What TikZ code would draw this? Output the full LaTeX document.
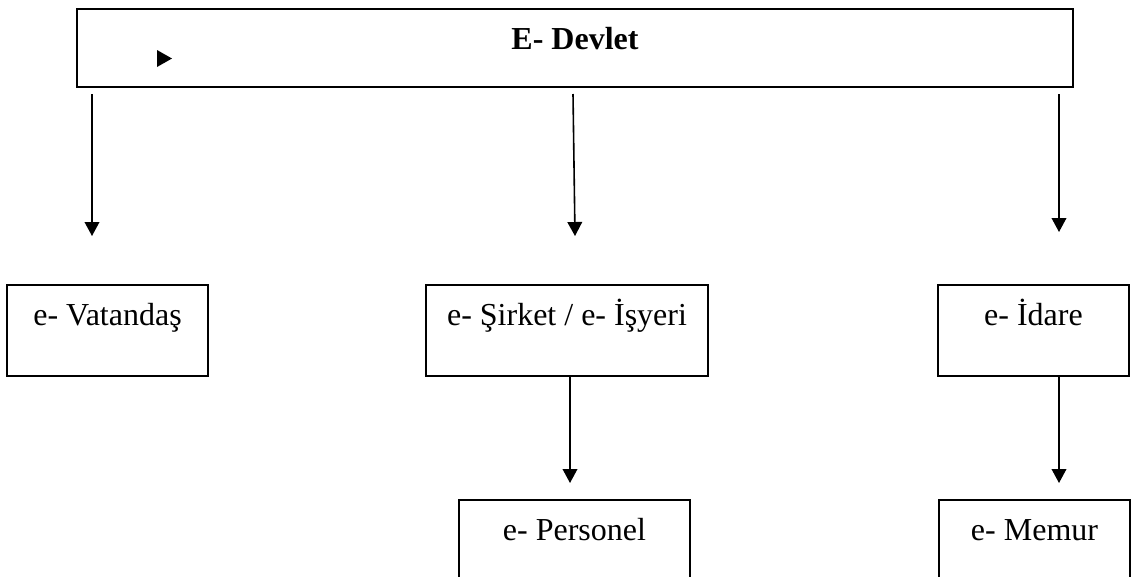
\documentclass[tikz,border=0pt]{standalone}
\usepackage{fontspec}
\setmainfont{Liberation Serif}
\usetikzlibrary{arrows.meta}
\tikzstyle{hd}=[rectangle,draw=black,line width=2pt,inner sep=0pt,
  minimum width=747pt,minimum height=58.5pt,text height=15.75pt,text depth=14.25pt,
  font=\fontsize{24}{28}\selectfont\bfseries]
\tikzstyle{bx}=[rectangle,draw=black,line width=1.1pt,inner sep=0pt,
  minimum height=68.25pt,text height=15.75pt,text depth=24pt,
  font=\fontsize{24}{28}\selectfont]
\tikzstyle{ar}=[-{Triangle[width=11pt,length=10.5pt]},line width=1.2pt]

\begin{document}
\begin{tikzpicture}[x=0.75pt,y=-0.75pt]
            \clip (0,0) rectangle (1131,576);
            \node [style=hd] (0) at (575, 48) {E- Devlet};
            \fill (157,50) -- (172,58.5) -- (157,67) -- cycle;
            \node [style=bx,minimum width=150.75pt] (1) at (107.5, 330.5) {e- Vatandaş};
            \node [style=bx,minimum width=211.5pt] (2) at (567, 330.5) {e- Şirket / e- İşyeri};
            \node [style=bx,minimum width=143.25pt] (3) at (1033.5, 330.5) {e- İdare};
            \node [style=bx,minimum width=173.25pt] (4) at (574.5, 545.5) {e- Personel};
            \node [style=bx,minimum width=143.25pt] (5) at (1034.5, 545.5) {e- Memur};
            \coordinate (a1) at (92, 94);
            \coordinate (b1) at (92, 236);
            \coordinate (a2) at (573, 94);
            \coordinate (b2) at (575, 236);
            \coordinate (a3) at (1059, 94);
            \coordinate (b3) at (1059, 232);
            \coordinate (c1) at (570, 483);
            \coordinate (c2) at (1059, 483);
            \draw [style=ar] (a1) to (b1);
            \draw [style=ar] (a2) to (b2);
            \draw [style=ar] (a3) to (b3);
            \draw [style=ar] (2.south -| c1) to (c1);
            \draw [style=ar] (3.south -| c2) to (c2);
    \end{tikzpicture}
\end{document}
